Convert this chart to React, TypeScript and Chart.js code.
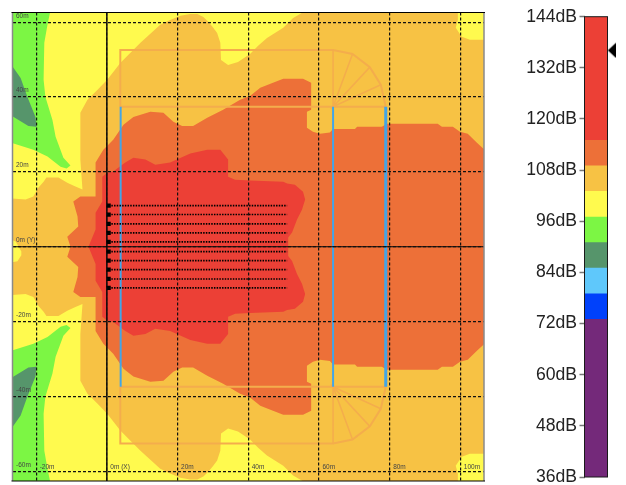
import React, { useEffect, useRef } from "react";
import { Chart, registerables } from "chart.js";

Chart.register(...registerables);

type P = [number, number];

const xTicks = [-20, 0, 20, 40, 60, 80, 100];
const xTickLabels = ["-20m", "0m (X)", "20m", "40m", "60m", "80m", "100m"];
const yTicks = [-60, -40, -20, 0, 20, 40, 60];
const yTickLabels = ["-60m", "-40m", "-20m", "0m (Y)", "20m", "40m", "60m"];

const plotBounds: P[] = [[-27, 63], [107.5, 63], [107.5, -63], [-27, -63]];

const goldContour: P[] = [
  [-27, 12.9], [-23, 12.6], [-20.8, 13.4], [-19.4, 15.8], [-17.9, 17.4], [-17.1, 18.5], [-13.7, 18.5], [-11.2, 17.1],
  [-8.9, 16.1], [-6.9, 15.3], [-7.5, 23.3], [-7.5, 35.8], [-5.5, 39.3], [-2.7, 41.9], [0.1, 44.6], [3.8, 49.1],
  [6.6, 51.8], [9.5, 54.5], [12.3, 56.9], [15.1, 59.3], [17.9, 60.6], [20.8, 61.7], [23.6, 62.2], [25.6, 62.2],
  [27.3, 61.4], [28.7, 60.1], [30.1, 58.5], [31.2, 57.1], [32.1, 54.5], [32.3, 49.9], [34.3, 48.6], [37.1, 49.4],
  [40.5, 51.5], [42.8, 53.7], [45.3, 55.8], [49.9, 58.5], [52.7, 61.1], [56.1, 63], [99.3, 63], [99.3, 60.6],
  [98.7, 58.5], [100.4, 56.1], [102.7, 55.3], [107.5, 55.3],
  [107.5, -55.3], [102.7, -55.3], [100.4, -56.1], [98.7, -58.5], [99.3, -60.6], [99.3, -63], [56.1, -63], [52.7, -61.1],
  [49.9, -58.5], [45.3, -55.8], [42.8, -53.7], [40.5, -51.5], [37.1, -49.4], [34.3, -48.6], [32.3, -49.9], [32.1, -54.5],
  [31.2, -57.1], [30.1, -58.5], [28.7, -60.1], [27.3, -61.4], [25.6, -62.2], [23.6, -62.2], [20.8, -61.7], [17.9, -60.6],
  [15.1, -59.3], [12.3, -56.9], [9.5, -54.5], [6.6, -51.8], [3.8, -49.1], [0.1, -44.6], [-2.7, -41.9], [-5.5, -39.3],
  [-7.5, -35.8], [-7.5, -23.3], [-6.9, -15.3], [-8.9, -16.1], [-11.2, -17.1], [-13.7, -18.5], [-17.1, -18.5], [-17.9, -17.4],
  [-19.4, -15.8], [-20.8, -13.4], [-23, -12.6], [-27, -12.9],
];

const yellowNotch: P[] = [[-27, 1.9], [-25.8, 1.4], [-25, 0.1], [-24.2, -1.3], [-24.2, -2.3], [-25.3, -3.9], [-27, -4.2]];

const orangeContour: P[] = [
  [-10.3, 0], [-11.2, 2.7], [-8.1, 5.4], [-8.3, 8.1], [-9.5, 12.1], [-7.5, 13.4], [-3.2, 13.4], [-3.2, 22.5],
  [-1, 25.9], [1.8, 28.6], [4.7, 32.6], [7.5, 34.7], [12.3, 36.1], [16, 35.8], [18.8, 33.4], [21.3, 32.3],
  [24.4, 32.3], [28.4, 34.5], [32.9, 36.6], [37.7, 39.3], [40.5, 40.3], [43.4, 42.5], [47, 43.8], [49.9, 44.9],
  [55.5, 44.9], [57.8, 43.8], [57.8, 36.6], [56.6, 36.1], [56.6, 31.8], [58.3, 30.7], [60.3, 30.2], [63.1, 30.5],
  [64, 31.5], [70.2, 31.5], [70.8, 32.1], [77.8, 32.1], [79.2, 32.9], [93.6, 32.9], [94.8, 32.1], [97.9, 32.1],
  [99.9, 30.7], [102.1, 30.2], [104.7, 27.8], [107.5, 25.4],
  [107.5, -25.4], [104.7, -27.8], [102.1, -30.2], [99.9, -30.7], [97.9, -32.1], [94.8, -32.1], [93.6, -32.9], [79.2, -32.9],
  [77.8, -32.1], [70.8, -32.1], [70.2, -31.5], [64, -31.5], [63.1, -30.5], [60.3, -30.2], [58.3, -30.7], [56.6, -31.8],
  [56.6, -36.1], [57.8, -36.6], [57.8, -43.8], [55.5, -44.9], [49.9, -44.9], [47, -43.8], [43.4, -42.5], [40.5, -40.3],
  [37.7, -39.3], [32.9, -36.6], [28.4, -34.5], [24.4, -32.3], [21.3, -32.3], [18.8, -33.4], [16, -35.8], [12.3, -36.1],
  [7.5, -34.7], [4.7, -32.6], [1.8, -28.6], [-1, -25.9], [-3.2, -22.5], [-3.2, -13.4], [-7.5, -13.4], [-9.5, -12.1],
  [-8.3, -8.1], [-8.1, -5.4], [-11.2, -2.7],
];

const redContour: P[] = [
  [-5.2, 0], [-3.2, 4.6], [-3.2, 9.1], [-1.3, 12.1], [-1.3, 18.7], [0.1, 19.8], [1.8, 20.1], [5.2, 22.5],
  [7.5, 23.8], [10.9, 23.3], [13.7, 21.9], [17.9, 22.5], [23.6, 24.9], [28.4, 25.9], [32.1, 25.9], [34.3, 23.3],
  [34.3, 18.7], [36.3, 17.9], [40.5, 17.7], [49.9, 17.4], [51, 16.9], [53.2, 16.6], [55.5, 14.7], [56.1, 12.6],
  [55.2, 9.9], [53.8, 7.3], [52.4, 3.8], [51.3, 2.5],
  [51.3, -2.5], [52.4, -3.8], [53.8, -7.3], [55.2, -9.9], [56.1, -12.6], [55.5, -14.7], [53.2, -16.6], [51, -16.9],
  [49.9, -17.4], [40.5, -17.7], [36.3, -17.9], [34.3, -18.7], [34.3, -23.3], [32.1, -25.9], [28.4, -25.9], [23.6, -24.9],
  [17.9, -22.5], [13.7, -21.9], [10.9, -23.3], [7.5, -23.8], [5.2, -22.5], [1.8, -20.1], [0.1, -19.8], [-1.3, -18.7],
  [-1.3, -12.1], [-3.2, -9.1], [-3.2, -4.6],
];

const greenTop: P[] = [
  [-27, 63], [-16, 63], [-16.8, 59.3], [-17.7, 54.5], [-17.9, 44.6], [-17.4, 40.1], [-15.4, 33.9], [-14.5, 29.4],
  [-12.3, 23.8], [-10.3, 21.7], [-11.4, 20.9], [-13.1, 21.4], [-16.8, 24.1], [-20.8, 25.9], [-27, 27.8],
];
const greenBottom: P[] = [
  [-27, -63], [-16, -63], [-16.8, -59.3], [-17.7, -54.5], [-17.9, -44.6], [-17.4, -40.1], [-15.4, -33.9], [-14.5, -29.4],
  [-12.3, -23.8], [-10.3, -21.7], [-11.4, -20.9], [-13.1, -21.4], [-16.8, -24.1], [-20.8, -25.9], [-27, -27.8],
];
const darkGreenTop: P[] = [[-27, 48.6], [-24.4, 45.1], [-22.5, 40.1], [-20.2, 34.7], [-19.9, 32.1], [-22.2, 32.3], [-27, 35]];
const darkGreenBottom: P[] = [[-27, -48.6], [-24.4, -45.1], [-22.5, -40.1], [-20.2, -34.7], [-19.9, -32.1], [-22.2, -32.3], [-27, -35]];

const stageTop: P[] = [[3.8, 37.4], [3.8, 52.6], [64, 52.6], [69.5, 51.5], [74.4, 48], [77.5, 43.3], [78.9, 37.4], [3.8, 37.4]];
const stageBottom: P[] = [[3.8, -37.4], [3.8, -52.6], [64, -52.6], [69.5, -51.5], [74.4, -48], [77.5, -43.3], [78.9, -37.4], [3.8, -37.4]];
const spokesTop: P[] = [[64, 37.4], [64, 52.6], [64, 37.4], [69.5, 51.5], [64, 37.4], [74.4, 48], [64, 37.4], [77.5, 43.3]];
const spokesBottom: P[] = [[64, -37.4], [64, -52.6], [64, -37.4], [69.5, -51.5], [64, -37.4], [74.4, -48], [64, -37.4], [77.5, -43.3]];

const wallXs = [3.9, 64, 78.9];
const wallWidths = [2, 2, 3];
const wallHalfLength = 37.4;

const arrayRowsY = [11, 8.6, 6.1, 3.7, 1.3, -1.3, -3.7, -6.1, -8.6, -11];
const arrayRowStartX = 0.5;
const arrayRowEndX = 51;

const dbTicks = [36, 48, 60, 72, 84, 96, 108, 120, 132, 144];
const dbBands = [36, 73, 79, 85, 91, 97, 103, 109, 115, 144];
const bandColors = ["#74297A", "#0041FB", "#5FC8FB", "#56956B", "#7CF644", "#FFFA4E", "#F7C244", "#ED7038", "#EC4036"];
const pointerDb = 136.1;

const YELLOW = "#FFFA4E";
const GOLD = "#F7C244";
const ORANGE = "#ED7038";
const RED = "#EC4036";
const GREEN = "#7CF644";
const DARK_GREEN = "#56956B";
const STAGE = "#F4AD4C";
const WALL = "#42A5E8";
const FONT = "'Liberation Sans', Arial, sans-serif";

const toXY = (pts: P[]) => pts.map(([x, y]) => ({ x, y }));

const region = (pts: P[], color: string) => ({
  type: "scatter",
  data: toXY(pts),
  showLine: true,
  fill: "shape",
  backgroundColor: color,
  borderColor: "transparent",
  borderWidth: 0,
  pointRadius: 0,
});

const stroke = (pts: P[], color: string, width: number, extra: any = {}) => ({
  type: "scatter",
  data: toXY(pts),
  showLine: true,
  fill: false,
  borderColor: color,
  borderWidth: width,
  pointRadius: 0,
  ...extra,
});

const heatFrame = {
  id: "heatFrame",
  afterDraw(chart: any) {
    const { ctx, chartArea: a } = chart;
    ctx.save();
    ctx.strokeStyle = "#8a8a8a";
    ctx.lineWidth = 1.5;
    ctx.beginPath();
    ctx.moveTo(a.left, a.top);
    ctx.lineTo(a.left, a.bottom);
    ctx.moveTo(a.right, a.top);
    ctx.lineTo(a.right, a.bottom);
    ctx.stroke();
    ctx.strokeStyle = "#000";
    ctx.lineWidth = 1;
    ctx.beginPath();
    ctx.moveTo(a.left - 1, a.top);
    ctx.lineTo(a.right + 1, a.top);
    ctx.moveTo(a.left - 1, a.bottom);
    ctx.lineTo(a.right + 1, a.bottom);
    ctx.stroke();
    ctx.restore();
  },
};

const barFrame = {
  id: "barFrame",
  afterDatasetsDraw(chart: any) {
    const { ctx, chartArea: a } = chart;
    ctx.save();
    ctx.strokeStyle = "#1a1a1a";
    ctx.lineWidth = 1;
    ctx.strokeRect(a.left, a.top, a.right - a.left, a.bottom - a.top);
    ctx.restore();
  },
};

export default function App() {
  const heatRef = useRef<HTMLCanvasElement>(null);
  const barRef = useRef<HTMLCanvasElement>(null);

  useEffect(() => {
    const layers: any[] = [
      region(plotBounds, YELLOW),
      region(greenTop, GREEN),
      region(greenBottom, GREEN),
      region(darkGreenTop, DARK_GREEN),
      region(darkGreenBottom, DARK_GREEN),
      region(goldContour, GOLD),
      region(yellowNotch, YELLOW),
      region(orangeContour, ORANGE),
      region(redContour, RED),
      stroke(stageTop, STAGE, 2),
      stroke(stageBottom, STAGE, 2),
      stroke(spokesTop, STAGE, 1.5),
      stroke(spokesBottom, STAGE, 1.5),
      ...wallXs.map((x, i) =>
        stroke([[x, wallHalfLength], [x, -wallHalfLength]], WALL, wallWidths[i])
      ),
      ...arrayRowsY.map((y) =>
        stroke([[arrayRowStartX, y], [arrayRowEndX, y]], "#000", 1.6, { borderDash: [1.5, 1.2] })
      ),
      {
        type: "scatter",
        data: arrayRowsY.map((y) => ({ x: arrayRowStartX, y })),
        showLine: false,
        pointStyle: "rect",
        pointRadius: 3,
        backgroundColor: "#000",
        borderColor: "#000",
        borderWidth: 0,
      },
      stroke([[0, -63], [0, 63]], "#000", 1.4),
      stroke([[-27, 0], [107.5, 0]], "#000", 1),
    ];
    const heatDatasets = layers.map((d, i) => ({ ...d, order: layers.length - i }));

    const heatScale = (
      values: number[],
      labels: string[],
      min: number,
      max: number,
      extraTicks: any,
      fit: (s: any) => void,
      position: string
    ) => ({
      type: "linear",
      position,
      min,
      max,
      afterBuildTicks: (s: any) => {
        s.ticks = values.map((value) => ({ value }));
      },
      afterFit: fit,
      grid: { color: "#111", lineWidth: 1.2, z: 1, drawTicks: false, tickLength: 0 },
      border: { display: false, dash: [3, 2] },
      ticks: {
        autoSkip: false,
        maxRotation: 0,
        mirror: true,
        z: 2,
        color: "#444",
        font: { family: FONT, size: 6.5 },
        callback: (_v: any, i: number) => labels[i],
        ...extraTicks,
      },
    });

    const heat = new Chart(heatRef.current as any, {
      type: "scatter",
      data: { datasets: heatDatasets as any },
      plugins: [heatFrame],
      options: {
        responsive: false,
        animation: false,
        devicePixelRatio: 1,
        layout: { padding: { left: 12.5, top: 12.5, right: 16, bottom: 3 } },
        plugins: { legend: { display: false }, tooltip: { enabled: false } },
        scales: {
          x: heatScale(xTicks, xTickLabels, -26.7, 106.7, { align: "start", labelOffset: 3.5, padding: 10 }, (s) => { s.height = 0; s.paddingLeft = 0; s.paddingRight = 0; }, "bottom"),
          y: heatScale(yTicks, yTickLabels, -62.6, 62.6, { labelOffset: -6.5, padding: 3.5 }, (s) => { s.width = 0; s.paddingTop = 0; s.paddingBottom = 0; }, "left"),
        },
      } as any,
    });

    const pointer = document.createElement("canvas");
    pointer.width = 8;
    pointer.height = 16;
    const pc = pointer.getContext("2d") as CanvasRenderingContext2D;
    pc.fillStyle = "#000";
    pc.beginPath();
    pc.moveTo(0, 8);
    pc.lineTo(8, 0.5);
    pc.lineTo(8, 15.5);
    pc.closePath();
    pc.fill();

    const bar = new Chart(barRef.current as any, {
      type: "bar",
      data: {
        labels: ["dB"],
        datasets: [
          ...bandColors.map((color, i) => ({
            type: "bar",
            data: [[dbBands[i], dbBands[i + 1]]],
            backgroundColor: color,
            borderWidth: 0,
            barPercentage: 1,
            categoryPercentage: 1,
            grouped: false,
            order: 2,
          })),
          {
            type: "scatter",
            xAxisID: "pointerX",
            data: [{ x: 1.19, y: pointerDb }],
            showLine: false,
            clip: false,
            pointStyle: pointer,
            order: 1,
          },
        ] as any,
      },
      plugins: [barFrame],
      options: {
        responsive: false,
        animation: false,
        devicePixelRatio: 1,
        layout: { padding: { left: 0, top: 16.7, right: 18.5, bottom: 8 } },
        plugins: { legend: { display: false }, tooltip: { enabled: false } },
        scales: {
          x: { display: false, stacked: false },
          pointerX: { type: "linear", display: false, min: 0, max: 1, offset: false },
          y: {
            type: "linear",
            min: 36,
            max: 144,
            afterBuildTicks: (s: any) => {
              s.ticks = dbTicks.map((value) => ({ value }));
            },
            afterFit: (s: any) => {
              s.width = 84.5;
              s.paddingTop = 0;
              s.paddingBottom = 0;
            },
            grid: { drawOnChartArea: false, drawTicks: true, tickLength: 5, tickColor: "#777", tickWidth: 1.5 },
            border: { display: false },
            ticks: {
              autoSkip: false,
              padding: 2.5,
              color: "#222",
              font: { family: FONT, size: 17.6 },
              callback: (v: any) => `${v}dB`,
            },
          },
        },
      } as any,
    });

    return () => {
      heat.destroy();
      bar.destroy();
    };
  }, []);

  return (
    <div style={{ position: "absolute", left: 0, top: 0, width: 626, height: 485, background: "#fff", overflow: "hidden" }}>
      <canvas ref={heatRef} width={500} height={485} style={{ position: "absolute", left: 0, top: 0, display: "block" }} />
      <canvas ref={barRef} width={126} height={485} style={{ position: "absolute", left: 500, top: 0, display: "block" }} />
    </div>
  );
}
